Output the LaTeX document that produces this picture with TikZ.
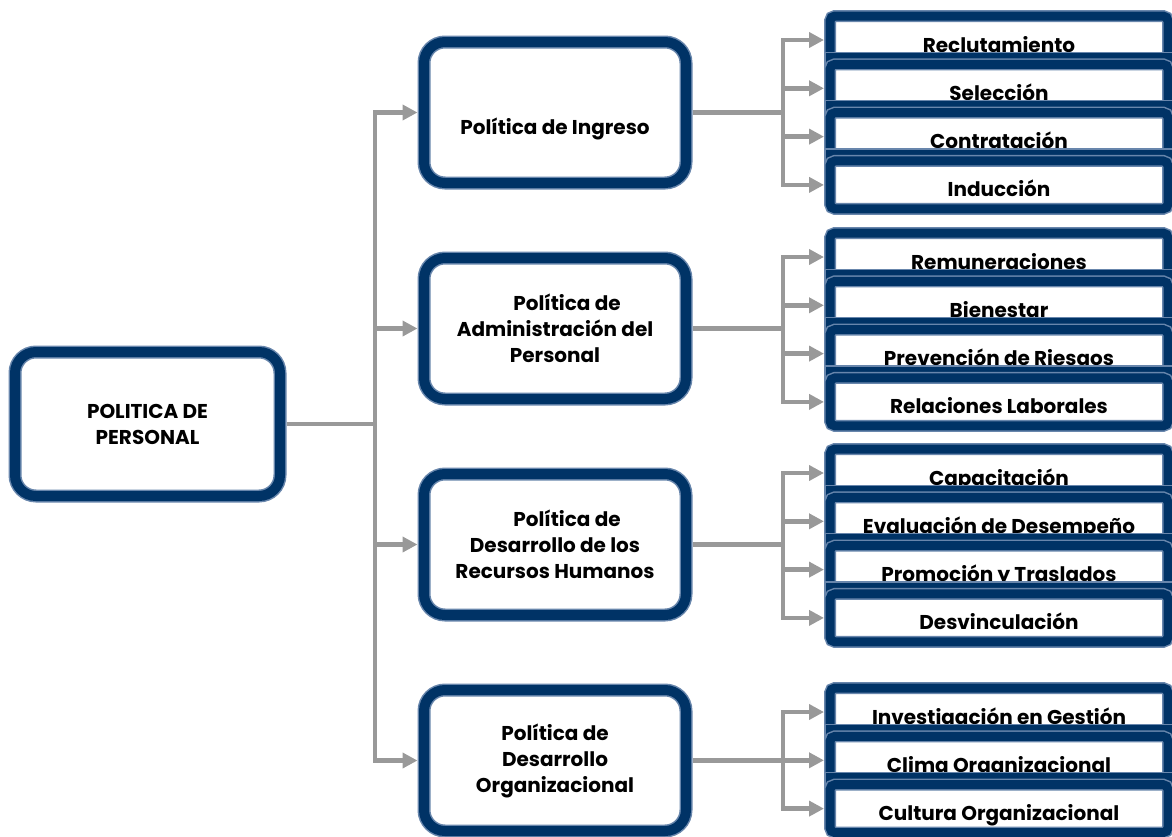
\documentclass[tikz,border=0pt]{standalone}
\usepackage{fontspec}
\setmainfont{Poppins}
\usetikzlibrary{arrows.meta}
\definecolor{polnavy}{RGB}{0,51,102}
\definecolor{polrim}{RGB}{104,134,172}
\definecolor{polgray}{RGB}{153,153,153}
\tikzset{
  polbox/.style={draw=polrim, double=polnavy, double distance=10pt, line width=1.5pt, fill=white,
    rounded corners=21pt, outer sep=6.5pt, inner sep=0pt, minimum width=262pt, minimum height=141pt,
    align=center, font=\bfseries\fontsize{20}{26}\selectfont},
  kidbox/.style={draw=polrim, double=polnavy, double distance=9pt, line width=1.5pt, fill=white,
    rounded corners=5pt, outer sep=6pt, inner sep=0pt, minimum width=338pt, minimum height=48pt,
    text height=24pt, text depth=0pt, font=\bfseries\fontsize{20}{24}\selectfont},
  kidshade/.style={fill=polnavy, draw=polrim, line width=1.5pt},
  link/.style={draw=polgray, line width=4.5pt},
  linkto/.style={link, -{Triangle[length=15pt,width=15pt]}},
}
\begin{document}
\begin{tikzpicture}[x=1pt,y=-1pt]
\useasboundingbox (0,0) rectangle (1172,836);
\node[polbox, minimum width=265pt, minimum height=144pt] (politica) at (147.5,424) {POLITICA DE\\PERSONAL};
\node[polbox, text height=43pt, text depth=0pt] (ingreso) at (555,112.5) {Política de Ingreso};
\node[polbox] (admin) at (555,328.5) {\hspace*{24pt}Política de\\Administración del\\Personal};
\node[polbox] (desarrollo) at (555,544.5) {\hspace*{24pt}Política de\\Desarrollo de los\\Recursos Humanos};
\node[polbox] (organiz) at (555,760.5) {Política de\\Desarrollo\\Organizacional};

\coordinate (jmain) at (375,424);
\draw[link] (politica.east) -- (jmain);
\foreach \p in {ingreso,admin,desarrollo,organiz}
  \draw[linkto] (jmain) |- (\p.west);

\foreach \txt [count=\k] in {Reclutamiento,Selección,Contratación,Inducción}{
  \pgfmathsetmacro\ytop{10+48.3*(\k-1)}
  \ifnum\k>1 \filldraw[kidshade] (825,\ytop-6) rectangle (1174,\ytop+14);\fi
  \node[kidbox] (ing\k) at (999,\ytop+30) {\txt};
}
\foreach \txt [count=\k] in {Remuneraciones,Bienestar,Prevención de Riesgos,Relaciones Laborales}{
  \pgfmathsetmacro\ytop{227+48.3*(\k-1)}
  \ifnum\k>1 \filldraw[kidshade] (825,\ytop-6) rectangle (1174,\ytop+14);\fi
  \node[kidbox] (adm\k) at (999,\ytop+30) {\txt};
}
\foreach \txt [count=\k] in {Capacitación,Evaluación de Desempeño,Promoción y Traslados,Desvinculación}{
  \pgfmathsetmacro\ytop{443+48.3*(\k-1)}
  \ifnum\k>1 \filldraw[kidshade] (825,\ytop-6) rectangle (1174,\ytop+14);\fi
  \node[kidbox] (rh\k) at (999,\ytop+30) {\txt};
}
\foreach \txt [count=\k] in {Investigación en Gestión,Clima Organizacional,Cultura Organizacional}{
  \pgfmathsetmacro\ytop{682+48.3*(\k-1)}
  \ifnum\k>1 \filldraw[kidshade] (825,\ytop-6) rectangle (1174,\ytop+14);\fi
  \node[kidbox] (org\k) at (999,\ytop+30) {\txt};
}

\coordinate (jing) at (783,112.5);
\draw[link] (ingreso.east) -- (jing);
\foreach \k in {1,...,4}
  \draw[linkto] (jing) |- (ing\k.west);
\coordinate (jadm) at (783,328.5);
\draw[link] (admin.east) -- (jadm);
\foreach \k in {1,...,4}
  \draw[linkto] (jadm) |- (adm\k.west);
\coordinate (jrh) at (783,544.5);
\draw[link] (desarrollo.east) -- (jrh);
\foreach \k in {1,...,4}
  \draw[linkto] (jrh) |- (rh\k.west);
\coordinate (jorg) at (783,760.5);
\draw[link] (organiz.east) -- (jorg);
\foreach \k in {1,...,3}
  \draw[linkto] (jorg) |- (org\k.west);
\end{tikzpicture}
\end{document}
